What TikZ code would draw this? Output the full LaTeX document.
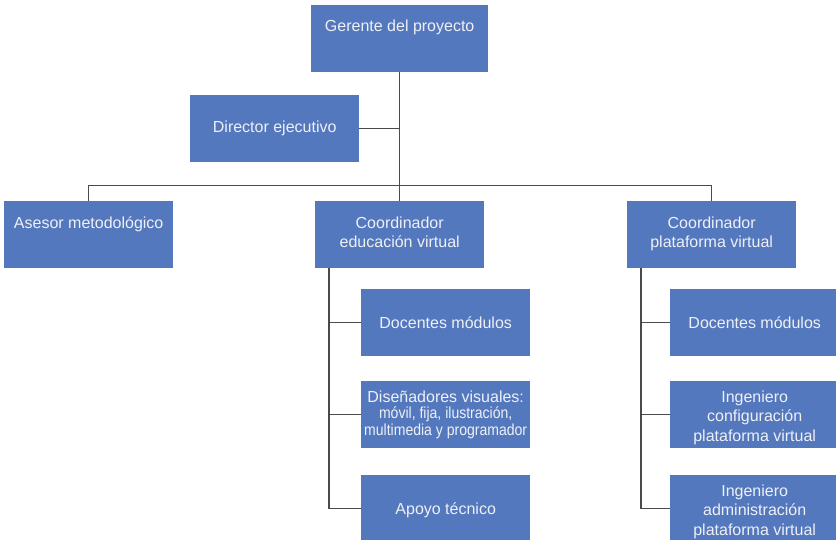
\documentclass[tikz,border=0pt]{standalone}
\usepackage{fontspec}
\setmainfont{Liberation Sans}
\newfontfamily\condfont[FakeStretch=0.877]{Liberation Sans}
\definecolor{boxfill}{HTML}{5478BE}
\definecolor{boxtext}{HTML}{EEF0F6}
\definecolor{linecol}{HTML}{4A4A4A}
\newcommand{\toptxt}[2]{\parbox[c][67pt][t]{#1}{\centering\rule{0pt}{27pt}#2}}
\begin{document}
\begin{tikzpicture}[x=1pt,y=-1pt,
  box/.style={fill=boxfill,text=boxtext,inner sep=0pt,anchor=north west,
    minimum width=169pt,minimum height=67pt,align=center,
    font=\fontsize{16}{19.5}\selectfont},
  conn/.style={draw=linecol,line width=1.2pt}]
\useasboundingbox (0,0) rectangle (836,540);
\clip (0,0) rectangle (836,540);
% top level
\node[box,minimum width=177pt] (G) at (311,4.7) {\toptxt{177pt}{Gerente del proyecto}};
\node[box] (D) at (190,95) {Director ejecutivo};
\node[box] (A) at (4,201) {\toptxt{169pt}{Asesor metodológico}};
\node[box] (CE) at (315,201) {\toptxt{169pt}{Coordinador\\educación virtual}};
\node[box] (CP) at (627,201) {\toptxt{169pt}{Coordinador\\plataforma virtual}};
% left branch
\node[box] (DM1) at (361,289) {Docentes módulos};
\node[box,font=\fontsize{16}{16.5}\selectfont] (DV) at (361,381) {Diseñadores visuales:\\{\condfont móvil, fija, ilustración,}\\{\condfont multimedia y programador}};
\node[box] (AT) at (361,475) {\rule{0pt}{14pt}Apoyo técnico};
% right branch
\node[box] (DM2) at (670,289) {Docentes módulos};
\node[box] (IC) at (670,381) {\rule{0pt}{17pt}Ingeniero\\configuración\\plataforma virtual};
\node[box] (IA) at (670,475) {\rule{0pt}{17pt}Ingeniero\\administración\\plataforma virtual};
% connectors
\coordinate (bar) at (400,185.7);
\coordinate (lt) at ([xshift=14pt]CE.south west);
\coordinate (rt) at ([xshift=14pt]CP.south west);
\draw[conn] (G.south) -- (G.south |- bar);
\draw[conn] (D.east) -- (D.east -| G.south);
\draw[conn] (A.north) |- (bar) -| (CP.north);
\draw[conn] (CE.north) -- (CE.north |- bar);
\draw[conn] (lt) |- (AT.west);
\draw[conn] (lt |- DM1.west) -- (DM1.west);
\draw[conn] (lt |- DV.west) -- (DV.west);
\draw[conn] (rt) |- (IA.west);
\draw[conn] (rt |- DM2.west) -- (DM2.west);
\draw[conn] (rt |- IC.west) -- (IC.west);
\end{tikzpicture}
\end{document}
